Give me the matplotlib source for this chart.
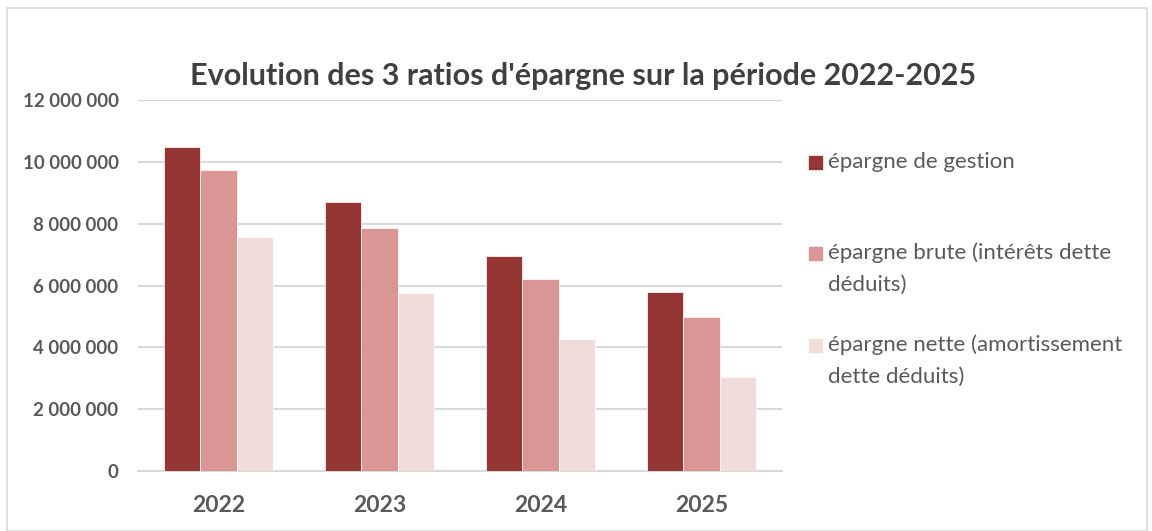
import matplotlib
matplotlib.use("Agg")
import matplotlib.pyplot as plt
from matplotlib.patches import Rectangle
import numpy as np

years = ["2022", "2023", "2024", "2025"]
series_names = ["épargne de gestion",
                "épargne brute (intérêts dette\ndéduits)",
                "épargne nette (amortissement\ndette déduits)"]
epargne_gestion = [10480000, 8710000, 6960000, 5780000]
epargne_brute = [9730000, 7870000, 6200000, 4990000]
epargne_nette = [7560000, 5760000, 4270000, 3040000]
colors = ["#943634", "#D99694", "#F2DCDB"]
yticks = [0, 2000000, 4000000, 6000000, 8000000, 10000000, 12000000]

plt.rcParams['font.family'] = ['Lato', 'DejaVu Sans']
txt = "#595959"

fig = plt.figure(figsize=(11.52, 5.31), dpi=100)
ax = fig.add_axes([138/1152, 1-471/531, 644/1152, 371/531])

x = np.arange(len(years))
w = 0.224
data = [epargne_gestion, epargne_brute, epargne_nette]
for i, (vals, c) in enumerate(zip(data, colors)):
    ax.bar(x + (i-1)*w, vals, width=w, color=c, edgecolor="white", linewidth=0.5, zorder=3)

ax.set_xlim(-0.5, 3.5)
ax.set_ylim(0, 12000000)
ax.set_yticks(yticks)
ax.set_yticklabels([f"{v:,}".replace(",", " ") for v in yticks], fontsize=13.5, fontweight="bold", color=txt)
ax.set_xticks(x)
ax.set_xticklabels(years, fontsize=16.5, fontweight="bold", color=txt)
ax.grid(axis="y", color="#D9D9D9", linewidth=1.5, zorder=0)
for s in ["top", "right", "left"]:
    ax.spines[s].set_visible(False)
ax.spines["bottom"].set_color("#D9D9D9")
ax.spines["bottom"].set_linewidth(1.5)
ax.tick_params(axis="y", length=0, pad=14)
ax.tick_params(axis="x", length=0, pad=17)

fig.text(583/1152, 1-76/531, "Evolution des 3 ratios d'épargne sur la période 2022-2025",
         ha="center", va="center", fontsize=22, fontweight="bold", color="#404040")

# legend
leg_y = [162, 253, 345]
for name, c, yy in zip(series_names, colors, leg_y):
    fig.patches.append(Rectangle((809/1152, 1-(yy+7)/531), 13/1152, 13/531,
                                 transform=fig.transFigure, color=c, figure=fig))
    for k, line in enumerate(name.split("\n")):
        fig.text(828/1152, 1-(yy+6+32*k)/531, line, ha="left", va="baseline", fontsize=16,
                 color=txt)

# chart border
fig.patches.append(Rectangle((7/1152, 0), 1140/1152, 1-8/531, transform=fig.transFigure,
                             fill=False, edgecolor="#D9D9D9", linewidth=1.2, figure=fig))

fig.savefig("out.png", dpi=100)
